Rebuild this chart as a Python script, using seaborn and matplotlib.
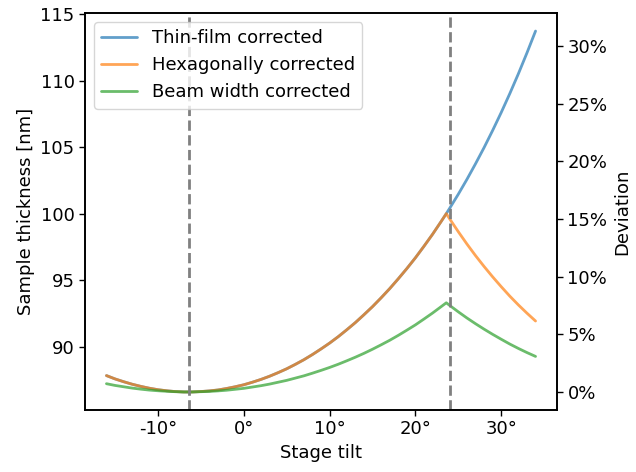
import matplotlib
matplotlib.use("Agg")
import matplotlib.pyplot as plt
import matplotlib.ticker as mticker
import seaborn as sns
import pandas as pd

# Stage tilt (degrees)
tilt = [-16, -15, -14, -13, -12, -11, -10, -9, -8, -7, -6, -5, -4, -3, -2, -1,
        0, 1, 2, 3, 4, 5, 6, 7, 8, 9, 10, 11, 12, 13, 14, 15, 16, 17, 18, 19,
        20, 21, 22, 23, 23.6, 24, 25, 26, 27, 28, 29, 30, 31, 32, 33, 34]

thin_film = [87.84, 87.59, 87.38, 87.19, 87.03, 86.89, 86.78, 86.70, 86.64, 86.61,
             86.61, 86.64, 86.69, 86.76, 86.87, 87.00, 87.15, 87.34, 87.55, 87.79,
             88.06, 88.35, 88.68, 89.03, 89.42, 89.84, 90.28, 90.76, 91.28, 91.82,
             92.41, 93.02, 93.68, 94.37, 95.11, 95.88, 96.69, 97.56, 98.46, 99.42,
             100.01, 100.42, 101.47, 102.58, 103.75, 104.97, 106.26, 107.61, 109.03,
             110.52, 112.09, 113.73]

hexagonal = [87.84, 87.59, 87.38, 87.19, 87.03, 86.89, 86.78, 86.70, 86.64, 86.61,
             86.61, 86.64, 86.69, 86.76, 86.87, 87.00, 87.15, 87.34, 87.55, 87.79,
             88.06, 88.35, 88.68, 89.03, 89.42, 89.84, 90.28, 90.76, 91.28, 91.82,
             92.41, 93.02, 93.68, 94.37, 95.11, 95.88, 96.69, 97.56, 98.46, 99.42,
             100.01, 99.61, 98.65, 97.73, 96.86, 96.04, 95.26, 94.52, 93.81,
             93.15, 92.53, 91.94]

beam_width = [87.23, 87.10, 87.00, 86.90, 86.82, 86.75, 86.70, 86.66, 86.63, 86.61,
              86.61, 86.63, 86.65, 86.69, 86.74, 86.81, 86.88, 86.98, 87.08, 87.20,
              87.34, 87.48, 87.65, 87.82, 88.02, 88.23, 88.45, 88.69, 88.95, 89.22,
              89.51, 89.82, 90.15, 90.49, 90.86, 91.25, 91.65, 92.09, 92.54, 93.02,
              93.31, 93.11, 92.63, 92.17, 91.74, 91.33, 90.94, 90.57, 90.21,
              89.88, 89.57, 89.28]

series_names = ["Thin-film corrected", "Hexagonally corrected", "Beam width corrected"]
min_thickness = 86.61
vlines = [-6.4, 24.0]

df = pd.DataFrame({
    "tilt": tilt * 3,
    "thickness": thin_film + hexagonal + beam_width,
    "method": [series_names[0]] * len(tilt) + [series_names[1]] * len(tilt)
              + [series_names[2]] * len(tilt),
})

sns.set_style("ticks")
FS = 13
plt.rcParams["font.family"] = ["DejaVu Sans"]
plt.rcParams["font.size"] = FS
plt.rcParams["text.color"] = "black"
plt.rcParams["axes.labelcolor"] = "black"
plt.rcParams["xtick.color"] = "black"
plt.rcParams["ytick.color"] = "black"

fig = plt.figure(figsize=(6.36, 4.72), dpi=100)
ax = fig.add_axes([85 / 636, 1 - 410 / 472, (557 - 85) / 636, (410 - 13) / 472])

palette = sns.color_palette("tab10", 3)
sns.lineplot(data=df, x="tilt", y="thickness", hue="method", palette=palette,
             ax=ax, linewidth=2, alpha=0.7, sort=False)

for v in vlines:
    ax.axvline(v, color="gray", linestyle="--", linewidth=2)

ax.set_xlabel("Stage tilt", fontsize=FS)
ax.set_ylabel("Sample thickness [nm]", fontsize=FS)
ax.xaxis.set_major_locator(mticker.MultipleLocator(10))
ax.xaxis.set_major_formatter(mticker.FuncFormatter(lambda x, p: f"{x:.0f}°"))
ax.tick_params(labelsize=FS, direction="out", length=4, width=1, color="black")
for s in ax.spines.values():
    s.set_color("black")
    s.set_linewidth(1.2)

leg = ax.legend(loc="upper left", fontsize=FS, title=None)
for line in leg.get_lines():
    line.set_linewidth(2)
    line.set_alpha(0.7)

ax2 = ax.twinx()
lo, hi = ax.get_ylim()
ax2.set_ylim(lo / min_thickness - 1, hi / min_thickness - 1)
ax2.yaxis.set_major_locator(mticker.MultipleLocator(0.05))
ax2.yaxis.set_major_formatter(mticker.FuncFormatter(lambda y, p: f"{y * 100:.0f}%"))
ax2.set_ylabel("Deviation", fontsize=FS)
ax2.tick_params(labelsize=FS, direction="out", length=4, width=1, color="black")
for s in ax2.spines.values():
    s.set_color("black")
    s.set_linewidth(1.2)

fig.savefig("out.png", dpi=100)
